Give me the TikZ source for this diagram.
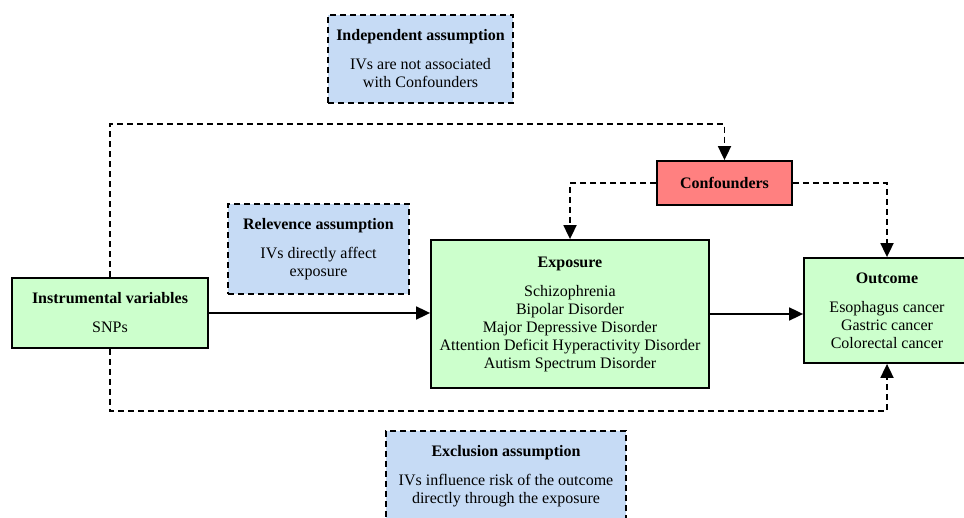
\documentclass[tikz,border=0pt]{standalone}
\usepackage{fontspec}
\setmainfont{Liberation Serif}
\usetikzlibrary{arrows.meta,positioning,calc}
\definecolor{varfill}{HTML}{CCFFCC}
\definecolor{asmfill}{HTML}{C6DBF5}
\definecolor{conffill}{HTML}{FF8080}

\begin{document}
\begin{tikzpicture}[
  x=1pt, y=-1pt,
  varbox/.style={draw, line width=1.8pt, fill=varfill, align=center, font=\fontsize{16}{18}\selectfont, inner sep=2pt},
  asm/.style={draw, dash pattern=on 6pt off 4pt, line width=1.8pt, fill=asmfill, align=center, font=\fontsize{16}{18}\selectfont, inner sep=2pt},
  confbox/.style={draw, line width=1.8pt, fill=conffill, align=center, font=\fontsize{16}{18}\selectfont\bfseries, inner sep=2pt},
  flow/.style={-{Triangle[length=14pt,width=13pt]}, line width=1.8pt},
  dflow/.style={flow, dash pattern=on 6pt off 4pt}
]
\useasboundingbox (0,0) rectangle (964,518);

\node[asm, minimum width=185pt, minimum height=88pt] (indep) at (420.5,59)
  {\textbf{Independent assumption}\\[11pt]IVs are not associated\\with Confounders};
\node[asm, minimum width=181pt, minimum height=90pt] (relev) at (318.5,249)
  {\textbf{Relevence assumption}\\[11pt]IVs directly affect\\exposure};
\node[asm, minimum width=240pt, minimum height=90pt] (excl) at (506,476)
  {\textbf{Exclusion assumption}\\[11pt]IVs influence risk of the outcome\\directly through the exposure};

\node[varbox, minimum width=196pt, minimum height=70pt] (iv) at (110,313)
  {\textbf{Instrumental variables}\\[11pt]SNPs};
\node[varbox, minimum width=278pt, minimum height=148pt] (expo) at (570,314)
  {\textbf{Exposure}\\[11pt]Schizophrenia\\Bipolar Disorder\\Major Depressive Disorder\\Attention Deficit Hyperactivity Disorder\\Autism Spectrum Disorder};
\node[varbox, minimum width=166pt, minimum height=105pt] (outc) at (887,310.5)
  {\textbf{Outcome}\\[11pt]Esophagus cancer\\Gastric cancer\\Colorectal cancer};
\node[confbox, minimum width=135pt, minimum height=44pt] (conf) at (724.5,183) {Confounders};

\draw[dflow] (iv.north) -- ++(0,-153) -| (conf.north);
\draw[dflow] (conf.west) -| (expo.north);
\draw[dflow] (conf.east) -| (outc.north);
\draw[flow] (iv.east) -- (iv.east -| expo.west);
\draw[flow] (expo.east) -- (expo.east -| outc.west);
\draw[dflow] (iv.south) -- ++(0,62) -| (outc.south);
\end{tikzpicture}
\end{document}
